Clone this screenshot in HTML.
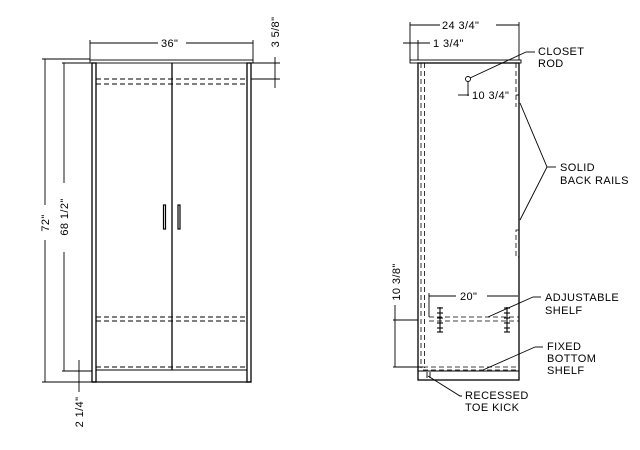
<!DOCTYPE html>
<html><head><meta charset="utf-8"><style>
html,body{margin:0;padding:0;background:#fff;}
svg{display:block;}
text{font-family:"Liberation Sans",sans-serif;font-size:11px;letter-spacing:0.4px;fill:#000;}
</style></head><body>
<svg width="640" height="450" viewBox="0 0 640 450" xmlns="http://www.w3.org/2000/svg">
<g stroke="#000" fill="none" stroke-width="0.9">
<!-- LEFT VIEW -->
<rect x="90" y="60" width="163" height="3"/>
<rect x="92" y="63" width="4" height="319" stroke-width="1.3"/>
<rect x="247" y="63" width="4" height="319" stroke-width="1.3"/>
<line x1="92" y1="382" x2="251" y2="382" stroke-width="1.3"/>
<line x1="96" y1="370" x2="247" y2="370"/>
<line x1="172" y1="63" x2="172" y2="370" stroke-width="1.3"/>
<g stroke-dasharray="5,3">
<line x1="96" y1="79" x2="247" y2="79"/><line x1="96" y1="84" x2="247" y2="84"/>
<line x1="96" y1="317" x2="247" y2="317"/><line x1="96" y1="321" x2="247" y2="321"/>
<line x1="96" y1="367" x2="247" y2="367"/>
</g>
<rect x="163.5" y="205" width="2" height="24" stroke-width="1.2"/>
<rect x="178" y="205" width="2" height="24" stroke-width="1.2"/>
<!-- 36 -->
<line x1="90" y1="40" x2="90" y2="60"/><line x1="253" y1="40" x2="253" y2="60"/>
<line x1="90" y1="43" x2="158" y2="43"/><line x1="186" y1="43" x2="253" y2="43"/>
<!-- 72 -->
<line x1="42" y1="59" x2="90" y2="59"/><line x1="42" y1="382" x2="92" y2="382"/>
<line x1="45" y1="59" x2="45" y2="205"/><line x1="45" y1="240" x2="45" y2="382"/>
<!-- 68 1/2 -->
<line x1="62" y1="63" x2="92" y2="63"/><line x1="62" y1="371" x2="92" y2="371"/>
<line x1="64" y1="63" x2="64" y2="183"/><line x1="64" y1="252" x2="64" y2="371"/>
<!-- 2 1/4 -->
<line x1="79" y1="360" x2="79" y2="392"/>
<!-- 3 5/8 -->
<line x1="251" y1="63" x2="280" y2="63"/><line x1="251" y1="79" x2="280" y2="79"/>
<line x1="275" y1="57" x2="275" y2="88"/>
<!-- RIGHT VIEW -->
<rect x="410" y="60" width="111" height="3"/>
<rect x="418" y="63" width="101" height="317" stroke-width="1.3"/>
<line x1="418" y1="371" x2="519" y2="371"/>
<g stroke-dasharray="5,3" stroke-width="0.8">
<line x1="421" y1="63" x2="421" y2="368"/><line x1="424.5" y1="63" x2="424.5" y2="368"/>
<line x1="516" y1="63" x2="516" y2="107"/>
<polyline points="519,230 516,230 516,257 519,257"/>
<line x1="429" y1="317" x2="519" y2="317"/><line x1="429" y1="321" x2="519" y2="321"/>
<line x1="423" y1="367" x2="519" y2="367"/><line x1="423" y1="370" x2="519" y2="370"/>
</g>
<line x1="427" y1="372" x2="427" y2="378"/><line x1="430" y1="372" x2="430" y2="378"/>
<!-- 24 3/4 -->
<line x1="410" y1="22" x2="410" y2="60"/><line x1="519" y1="22" x2="519" y2="60"/>
<line x1="410" y1="25" x2="440" y2="25"/><line x1="496" y1="25" x2="519" y2="25"/>
<!-- 1 3/4 -->
<line x1="403" y1="43" x2="430" y2="43"/><line x1="418" y1="40" x2="418" y2="60"/>
<!-- closet rod -->
<circle cx="468" cy="79" r="2.5"/>
<line x1="470" y1="78" x2="526" y2="52"/><line x1="526" y1="52" x2="535" y2="52"/>
<!-- 10 3/4 -->
<line x1="468" y1="82" x2="468" y2="96"/><line x1="458" y1="95" x2="469" y2="95"/>
<line x1="516" y1="95" x2="519" y2="95"/>
<!-- back rails leader -->
<polyline points="520,103 547,167 520,220"/><line x1="547" y1="167" x2="556" y2="167"/>
<!-- 20 -->
<line x1="429" y1="293" x2="429" y2="317"/>
<line x1="429" y1="296" x2="456" y2="296"/><line x1="487" y1="296" x2="518" y2="296"/>
<!-- pegs -->
<g stroke-width="1.1">
<line x1="440" y1="307" x2="440" y2="332"/><line x1="507" y1="307" x2="507" y2="332"/>
<line x1="437" y1="308" x2="443" y2="308"/><line x1="437" y1="313" x2="443" y2="313"/><line x1="437" y1="318" x2="443" y2="318"/><line x1="437" y1="323" x2="443" y2="323"/><line x1="437" y1="328" x2="443" y2="328"/><line x1="437" y1="332" x2="443" y2="332"/>
<line x1="504" y1="308" x2="510" y2="308"/><line x1="504" y1="313" x2="510" y2="313"/><line x1="504" y1="318" x2="510" y2="318"/><line x1="504" y1="323" x2="510" y2="323"/><line x1="504" y1="328" x2="510" y2="328"/><line x1="504" y1="332" x2="510" y2="332"/>
</g>
<!-- adjustable leader -->
<line x1="488" y1="317" x2="533" y2="297"/><line x1="533" y1="297" x2="541" y2="297"/>
<!-- 10 3/8 -->
<line x1="393" y1="320" x2="418" y2="320"/><line x1="393" y1="367" x2="423" y2="367"/>
<line x1="395" y1="320" x2="395" y2="367"/><line x1="395" y1="305" x2="395" y2="320"/>
<!-- fixed leader -->
<line x1="483" y1="370" x2="535" y2="347"/><line x1="535" y1="347" x2="543" y2="347"/>
<!-- toe kick leader -->
<polyline points="428,376 460,396 462,396"/>
</g>
<!-- TEXT -->
<text x="161" y="47">36"</text>
<text transform="translate(49,223) rotate(-90)" text-anchor="middle">72"</text>
<text transform="translate(68,217) rotate(-90)" text-anchor="middle">68  1/2"</text>
<text transform="translate(83,412) rotate(-90)" text-anchor="middle">2  1/4"</text>
<text transform="translate(279,32) rotate(-90)" text-anchor="middle">3  5/8"</text>
<text x="442" y="29">24  3/4"</text>
<text x="433" y="47">1  3/4"</text>
<text x="538" y="55">CLOSET</text>
<text x="538" y="67">ROD</text>
<text x="472" y="99">10  3/4"</text>
<text x="560" y="171">SOLID</text>
<text x="560" y="184">BACK  RAILS</text>
<text x="460" y="300">20"</text>
<text x="545" y="301">ADJUSTABLE</text>
<text x="545" y="314">SHELF</text>
<text transform="translate(400,282) rotate(-90)" text-anchor="middle">10  3/8"</text>
<text x="547" y="350">FIXED</text>
<text x="547" y="362">BOTTOM</text>
<text x="547" y="374">SHELF</text>
<text x="465" y="399">RECESSED</text>
<text x="465" y="411">TOE  KICK</text>
</svg>
</body></html>
